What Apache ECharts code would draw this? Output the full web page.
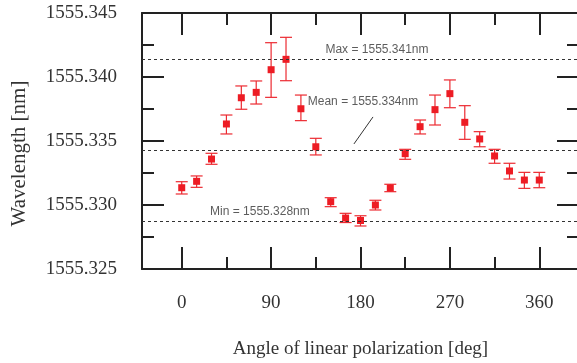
<!DOCTYPE html>
<html>
  <head>
    <meta charset="utf-8" />
    <title>Wavelength vs polarization</title>
    <script src="https://cdn.jsdelivr.net/npm/echarts@6.0.0/dist/echarts.min.js"></script>
    <style>
      html, body { margin: 0; padding: 0; background: #fff; }
    </style>
  </head>
  <body>
    <div id="main" style="width: 577px;height:363px;"></div>
    <script type="text/javascript">
      // data
      var angles = [0, 15, 30, 45, 60, 75, 90, 105, 120, 135, 150, 165, 180,
                    195, 210, 225, 240, 255, 270, 285, 300, 315, 330, 345, 360];
      var wavelength = [1555.33135, 1555.33185, 1555.33359, 1555.33633, 1555.33838, 1555.33880,
                        1555.34057, 1555.34138, 1555.33752, 1555.33455, 1555.33026, 1555.32898,
                        1555.32879, 1555.33000, 1555.33133, 1555.33401, 1555.33612, 1555.33745,
                        1555.33870, 1555.33646, 1555.33516, 1555.33383, 1555.33266, 1555.33195,
                        1555.33195];
      var errLow = [1555.33086, 1555.33138, 1555.33318, 1555.33555, 1555.33748, 1555.33789,
                    1555.33841, 1555.33971, 1555.33659, 1555.33391, 1555.32987, 1555.32863,
                    1555.32836, 1555.32961, 1555.33104, 1555.33357, 1555.33555, 1555.33625,
                    1555.33760, 1555.33513, 1555.33455, 1555.33326, 1555.33203, 1555.33130,
                    1555.33135];
      var errHigh = [1555.33182, 1555.33227, 1555.33404, 1555.33703, 1555.33930, 1555.33969,
                     1555.34268, 1555.34310, 1555.33859, 1555.33521, 1555.33057, 1555.32935,
                     1555.32916, 1555.33037, 1555.33162, 1555.33435, 1555.33664, 1555.33859,
                     1555.33977, 1555.33776, 1555.33573, 1555.33435, 1555.33326, 1555.33255,
                     1555.33255];

      var xMajorTicks = [0, 90, 180, 270, 360];
      var xMinorTicks = [45, 135, 225, 315];
      var yMajorTicks = [1555.325, 1555.330, 1555.335, 1555.340, 1555.345];
      var yMinorTicks = [1555.3275, 1555.3325, 1555.3375, 1555.3425];

      var refLines = [1555.3414, 1555.33427, 1555.32875];
      var notes = [
        [196.6, 1555.34211, 'Max = 1555.341nm'],
        [182.5, 1555.33805, 'Mean = 1555.334nm'],
        [78.7, 1555.32945, 'Min = 1555.328nm']
      ];
      var leader = [[192.6, 1555.33688], [173.4, 1555.33477]];

      var chartDom = document.getElementById('main');
      var myChart = echarts.init(chartDom);
      var option;

      var axisColor = '#222';
      var serif = '"Liberation Serif", "Times New Roman", serif';
      var sans = '"Liberation Sans", Arial, sans-serif';

      function xAxisDef(pos, ticks, len, showLine, showLabel) {
        return {
          type: 'value',
          position: pos,
          min: -40,
          max: 400,
          gridIndex: 0,
          axisLine: { show: showLine, onZero: false, lineStyle: { color: axisColor, width: 2 } },
          axisTick: { show: true, inside: true, length: len, customValues: ticks,
                      lineStyle: { color: axisColor, width: 2 } },
          axisLabel: { show: showLabel, customValues: ticks, margin: 25,
                       fontFamily: serif, fontSize: 19, color: '#333' },
          splitLine: { show: false }
        };
      }
      function yAxisDef(pos, ticks, len, showLine, showLabel) {
        return {
          type: 'value',
          position: pos,
          min: 1555.325,
          max: 1555.345,
          gridIndex: 0,
          axisLine: { show: showLine, onZero: false, lineStyle: { color: axisColor, width: 2 } },
          axisTick: { show: true, inside: true, length: len, customValues: ticks,
                      lineStyle: { color: axisColor, width: 2 } },
          axisLabel: { show: showLabel, customValues: ticks, margin: 25,
                       fontFamily: serif, fontSize: 19, color: '#333',
                       formatter: function (v) { return v.toFixed(3); } },
          splitLine: { show: false }
        };
      }

      var xs = [
        xAxisDef('bottom', xMajorTicks, 22, true, true),
        xAxisDef('bottom', xMinorTicks, 12, false, false),
        xAxisDef('top', xMajorTicks, 22, true, false),
        xAxisDef('top', xMinorTicks, 12, false, false)
      ];
      xs[0].name = 'Angle of linear polarization [deg]';
      xs[0].nameLocation = 'middle';
      xs[0].nameGap = 71;
      xs[0].nameTextStyle = { fontFamily: serif, fontSize: 19, color: '#333' };

      var ys = [
        yAxisDef('left', yMajorTicks, 22, true, true),
        yAxisDef('left', yMinorTicks, 12, false, false),
        yAxisDef('right', yMajorTicks, 22, true, false),
        yAxisDef('right', yMinorTicks, 12, false, false)
      ];
      ys[0].name = 'Wavelength [nm]';
      ys[0].nameLocation = 'middle';
      ys[0].nameGap = 112;
      ys[0].nameTextStyle = { fontFamily: serif, fontSize: 21, color: '#333', padding: [0, 25, 0, 0] };

      var points = angles.map(function (a, i) { return [a, wavelength[i]]; });
      var bars = angles.map(function (a, i) { return [a, errLow[i], errHigh[i]]; });

      function renderErr(params, api) {
        var lo = api.coord([api.value(0), api.value(1)]);
        var hi = api.coord([api.value(0), api.value(2)]);
        var hw = 6;
        var style = { stroke: '#ec2a31', lineWidth: 1.2 };
        return {
          type: 'group',
          children: [
            { type: 'line', shape: { x1: lo[0], y1: lo[1], x2: hi[0], y2: hi[1] }, style: style },
            { type: 'line', shape: { x1: lo[0] - hw, y1: lo[1], x2: lo[0] + hw, y2: lo[1] }, style: style },
            { type: 'line', shape: { x1: hi[0] - hw, y1: hi[1], x2: hi[0] + hw, y2: hi[1] }, style: style }
          ]
        };
      }

      option = {
        animation: false,
        backgroundColor: '#fff',
        grid: { left: 142, top: 13, right: -2, bottom: 94, containLabel: false, outerBoundsMode: 'none' },
        xAxis: xs,
        yAxis: ys,
        series: [
          {
            type: 'custom',
            renderItem: renderErr,
            xAxisIndex: 0,
            yAxisIndex: 0,
            encode: { x: 0, y: [1, 2] },
            data: bars,
            z: 3
          },
          {
            type: 'scatter',
            xAxisIndex: 0,
            yAxisIndex: 0,
            symbol: 'rect',
            symbolSize: 7,
            itemStyle: { color: '#ed1c24', opacity: 1 },
            data: points,
            z: 4,
            markLine: {
              silent: true,
              symbol: 'none',
              precision: 6,
              label: { show: false },
              lineStyle: { color: '#333', type: [3, 3], width: 1 },
              data: refLines.map(function (v) { return { yAxis: v }; })
            }
          },
          {
            type: 'scatter',
            xAxisIndex: 0,
            yAxisIndex: 0,
            symbolSize: 0,
            silent: true,
            label: {
              show: true,
              position: 'inside',
              formatter: function (p) { return p.data[2]; },
              fontFamily: sans,
              fontSize: 12,
              color: '#333'
            },
            data: notes,
            markLine: {
              silent: true,
              symbol: 'none',
              precision: 6,
              label: { show: false },
              lineStyle: { color: '#333', type: 'solid', width: 1 },
              data: [[{ coord: leader[0] }, { coord: leader[1] }]]
            }
          }
        ]
      };

      option && myChart.setOption(option);
    </script>
  </body>
</html>
